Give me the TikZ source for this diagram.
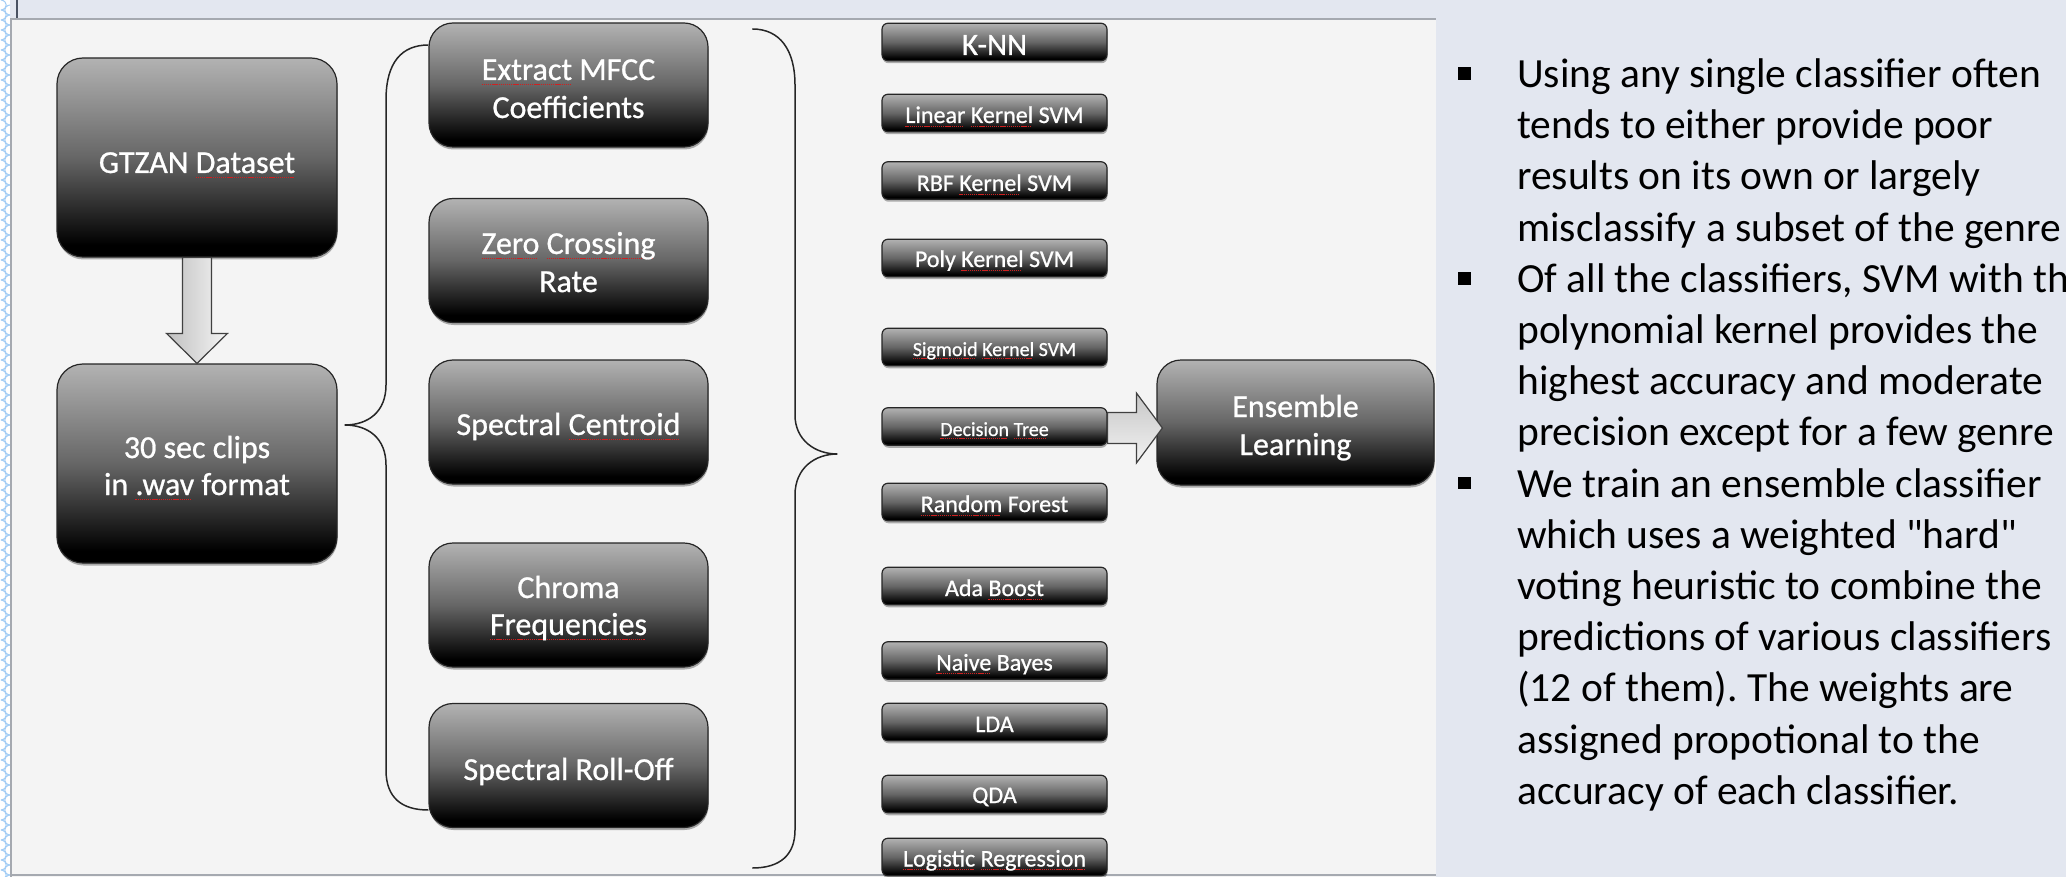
\documentclass[tikz,border=0pt]{standalone}
\usepackage{fontspec}
\setmainfont{Carlito}[Ligatures=TeXOff]
\newfontfamily\boxfont{Carlito}[Ligatures=TeXOff, FakeBold=0.8]
\frenchspacing
\usetikzlibrary{calc,shadows}
\definecolor{slidebg}{HTML}{E3E7F0}
\definecolor{panelbg}{HTML}{F4F4F4}
\definecolor{panelline}{HTML}{A5A9B0}
\definecolor{scallopc}{HTML}{A3CDF5}
\definecolor{sqred}{HTML}{D02020}
\definecolor{darkline}{HTML}{4A5262}
\pgfdeclareverticalshading{boxshade}{100bp}{color(0bp)=(black); color(28bp)=(black); color(50bp)=(black!60); color(75bp)=(black!30); color(100bp)=(black!30)}
\newsavebox\splbox
\newcommand\spl[1]{\leavevmode\sbox\splbox{#1}\rlap{\color{sqred}\leaders\hbox{\rule[-0.32ex]{1.3pt}{1.1pt}\kern0.8pt}\hskip\wd\splbox}\usebox\splbox}
\begin{document}
\begin{tikzpicture}[x=1pt,y=-1pt,
  boxbase/.style={draw=black!85, line width=1.2pt, shade, shading=boxshade, inner sep=0pt,
    drop shadow={shadow xshift=0.5pt, shadow yshift=-2.5pt, opacity=0.3, fill=black}},
  bigbox/.style={boxbase, rounded corners=26pt, minimum width=280pt, minimum height=199pt},
  featbox/.style={boxbase, rounded corners=24pt, minimum width=279pt, minimum height=124pt},
  clfbox/.style={boxbase, rounded corners=6pt, minimum width=225pt, minimum height=37.5pt},
  boxtext/.style={anchor=base, text=white, inner sep=0pt, font=\boxfont\fontsize{32pt}{38pt}\selectfont},
  clftext/.style={boxtext, font=\boxfont\fontsize{24pt}{28pt}\selectfont},
  smallclftext/.style={boxtext, font=\boxfont\fontsize{20pt}{24pt}\selectfont},
  bigclftext/.style={boxtext, font=\boxfont\fontsize{31pt}{34pt}\selectfont},
  fatarrow/.style={draw=black!75, line width=1.2pt},
  bracestyle/.style={draw=black!85, line width=1.5pt},
  bullettext/.style={anchor=base west, inner sep=0pt, font=\fontsize{41.5pt}{51pt}\selectfont},
  bulletsq/.style={fill=black, minimum size=12.5pt, inner sep=0pt},
  scallop/.style={draw=scallopc, line width=1pt}
]
\useasboundingbox (0,0) rectangle (2066,877);
% slide background
\fill[slidebg] (0,0) rectangle (2066,877);
\fill[white] (0,0) rectangle (10,877);
\foreach \k in {0,...,88}{
  \draw[scallop] (1,\k*10) .. controls (8,\k*10+1) and (8,\k*10+9) .. (1,\k*10+10);
  \draw[scallop] (10,\k*10+5) .. controls (3,\k*10+6) and (3,\k*10+14) .. (10,\k*10+15);
}
\draw[darkline, line width=1.5pt] (17,0) -- (17,19);
% diagram panel
\fill[panelbg] (11,19) rectangle (1436,877);
\draw[panelline, line width=2pt] (11,877) -- (11,19) -- (1436,19);
\draw[panelline, line width=2pt] (11,875) -- (1436,875);

% input boxes
\node[bigbox] (gtzan) at (197,157.5) {};
\node[boxtext] (gtzan-t) at (197,173) {GTZAN \spl{Dataset}};
\node[bigbox] (clips) at (197,463.5) {};
\node[boxtext] (clips-t1) at (197,458) {30 sec clips};
\node[boxtext] (clips-t2) at (197,495) {in \spl{.wav} format};

% features
\node[featbox] (mfcc) at (568.5,85) {};
\node[boxtext] (mfcc-t1) at (568.5,80) {\spl{Extract} MFCC};
\node[boxtext] (mfcc-t2) at (568.5,118) {Coefficients};
\node[featbox] (zcr) at (568.5,260.5) {};
\node[boxtext] (zcr-t1) at (568.5,254) {\spl{Zero} \spl{Crossing}};
\node[boxtext] (zcr-t2) at (568.5,292) {Rate};
\node[featbox] (sc) at (568.5,422) {};
\node[boxtext] (sc-t) at (568.5,435) {Spectral \spl{Centroid}};
\node[featbox] (chroma) at (568.5,605) {};
\node[boxtext] (chroma-t1) at (568.5,598) {Chroma};
\node[boxtext] (chroma-t2) at (568.5,635) {\spl{Frequencies}};
\node[featbox] (roll) at (568.5,765.5) {};
\node[boxtext] (roll-t) at (568.5,780) {Spectral Roll-Off};

% classifiers
\node[clfbox] (knn)  at (994.5,42)    {};
\node[bigclftext] (knn-t) at (994.5,55) {K-NN};
\node[clfbox] (lin)  at (994.5,113)   {};
\node[clftext] (lin-t) at (994.5,123) {\spl{Linear} \spl{Kernel} SVM};
\node[clfbox] (rbf)  at (994.5,180.5) {};
\node[clftext] (rbf-t) at (994.5,191) {RBF \spl{Kernel} SVM};
\node[clfbox] (poly) at (994.5,258)   {};
\node[clftext] (poly-t) at (994.5,267) {Poly \spl{Kernel} SVM};
\node[clfbox] (sig)  at (994.5,347)   {};
\node[smallclftext] (sig-t) at (994.5,356) {\spl{Sigmoid} \spl{Kernel} SVM};
\node[clfbox] (dt)   at (994.5,426.5) {};
\node[smallclftext] (dt-t) at (994.5,436) {\spl{Decision} \spl{Tree}};
\node[clfbox] (rf)   at (994.5,502)   {};
\node[clftext] (rf-t) at (994.5,512) {\spl{Random} Forest};
\node[clfbox] (ada)  at (994.5,586)   {};
\node[clftext] (ada-t) at (994.5,596) {Ada \spl{Boost}};
\node[clfbox] (nb)   at (994.5,660.5) {};
\node[clftext] (nb-t) at (994.5,670.5) {\spl{Naive} Bayes};
\node[clfbox] (lda)  at (994.5,722)   {};
\node[clftext] (lda-t) at (994.5,732) {LDA};
\node[clfbox] (qda)  at (994.5,794)   {};
\node[clftext] (qda-t) at (994.5,803) {QDA};
\node[clfbox] (lr)   at (994.5,857)   {};
\node[clftext] (lr-t) at (994.5,866.5) {\spl{Logistic} \spl{Regression}};

% ensemble
\node[featbox, minimum width=277pt, minimum height=125pt] (ens) at (1295.5,422.5) {};
\node[boxtext] (ens-t1) at (1295.5,417) {Ensemble};
\node[boxtext] (ens-t2) at (1295.5,455) {Learning};

% vertical fat arrow
\filldraw[fatarrow, left color=black!25, right color=black!4]
  ($(gtzan.south)+(-14.5,0)$) -- ($(clips.north)+(-14.5,-30)$) -- ($(clips.north)+(-30.5,-30)$)
  -- (clips.north) -- ($(clips.north)+(30.5,-30)$) -- ($(clips.north)+(14.5,-30)$)
  -- ($(gtzan.south)+(14.5,0)$) -- cycle;

% horizontal fat arrow
\coordinate (tip) at ($(dt.east -| ens.west)+(6,1.5)$);
\filldraw[fatarrow, top color=black!22, bottom color=black!5]
  ($(dt.east)+(0,-14)$) -- ($(tip)+(-26,-15.5)$) -- ($(tip)+(-26,-35)$) -- (tip)
  -- ($(tip)+(-26,35)$) -- ($(tip)+(-26,15.5)$) -- ($(dt.east)+(0,17)$) -- cycle;

% left brace
\coordinate (lbt) at ($(mfcc.west)+(0,-40)$);
\coordinate (lbb) at ($(roll.west)+(0,44.5)$);
\coordinate (lbtip) at ($(clips.east)+(7,-38.5)$);
\draw[bracestyle] (lbt) .. controls (402,45) and (386,62) .. (386,100) -- (386,385)
  .. controls (386,412) and (368,425) .. (lbtip)
  .. controls (368,425) and (386,438) .. (386,465) -- (386,770)
  .. controls (386,798) and (402,810) .. (lbb);

% right brace
\coordinate (rbt) at ($(knn.west)+(-129,-13)$);
\coordinate (rbb) at ($(lr.west)+(-129,11)$);
\coordinate (rbtip) at ($(dt.west)+(-44,27.5)$);
\draw[bracestyle] (rbt) .. controls (780,29) and (795,50) .. (795,85) -- (795,415)
  .. controls (795,440) and (815,454) .. (rbtip)
  .. controls (815,454) and (795,468) .. (795,495) -- (795,830)
  .. controls (795,855) and (780,868) .. (rbb);

% bullets
\node[bulletsq] (b1) at (1464.5,73.5) {};
\node[bulletsq] (b2) at (1464.5,278.3) {};
\node[bulletsq] (b3) at (1464.5,483.1) {};
\foreach \txt [count=\i] in {
  {Using any single classifier often},
  {tends to either provide poor},
  {results on its own or largely},
  {misclassify a subset of the genre},
  {Of all the classifiers, SVM with th},
  {polynomial kernel provides the},
  {highest accuracy and moderate},
  {precision except for a few genre},
  {We train an ensemble classifier},
  {which uses a weighted "hard"},
  {voting heuristic to combine the},
  {predictions of various classifiers},
  {(12 of them). The weights are},
  {assigned propotional to the},
  {accuracy of each classifier.}}{
  \node[bullettext] (line\i) at (1517,{87.5+51.2*(\i-1)}) {\txt};
}
\end{tikzpicture}
\end{document}
